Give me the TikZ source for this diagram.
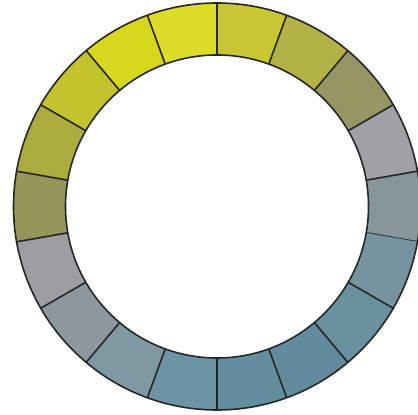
\documentclass[tikz,border=0pt]{standalone}
\usetikzlibrary{calc}
\begin{document}
\begin{tikzpicture}[x=1pt,y=1pt,
  seg/.style={draw=black!85,line width=1.6pt,line join=round}]
\useasboundingbox (0,0) rectangle (418,415);
\coordinate (c) at (217,208.5);
\def\Ro{203.5}
\def\Ri{151.5}
\foreach \a/\r/\g/\b in {-10/135/150/155, 10/160/160/165, 30/150/150/100, 50/178/178/70,
  70/200/198/50, 90/220/220/40, 110/215/215/30, 130/195/195/45, 150/172/172/62,
  170/150/150/90, 190/158/158/162, 210/140/152/158, 230/128/152/162, 250/108/148/165,
  270/98/142/160, 290/98/140/158, 310/105/145/160, 330/118/148/160}{
  \definecolor{segc}{RGB}{\r,\g,\b}
  \pgfmathsetmacro{\e}{\a+20}
  \fill[segc] ($(c)+(\a:\Ro)$) arc[start angle=\a,end angle=\e,radius=\Ro]
    -- ($(c)+(\e:\Ri)$) arc[start angle=\e,end angle=\a,radius=\Ri] -- cycle;
  \draw[seg] ($(c)+(\a:\Ri)$) -- ($(c)+(\a:\Ro)$);
}
\draw[seg] (c) circle[radius=\Ro];
\draw[seg] (c) circle[radius=\Ri];
\end{tikzpicture}
\end{document}
